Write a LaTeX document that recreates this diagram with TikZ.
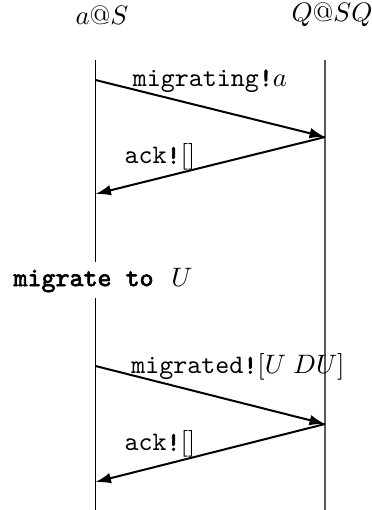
\documentclass[tikz,border=0pt]{standalone}
\usepackage{fontspec}
\setmonofont{lmmono10-regular.otf}[BoldFont=lmmono10-regular.otf, BoldFeatures={FakeBold=2.5}]
\usepackage{amsmath}
\usetikzlibrary{arrows.meta}
\begin{document}
\begin{tikzpicture}[x=3.75pt,y=3.75pt]
      \tikzstyle{every node}+=[inner sep=0pt]
      \tikzstyle{life}=[black, line width=0.4pt]
      \tikzstyle{msg}=[black, line width=0.75pt, -{Latex[length=5.8pt,width=4pt]}]
      \useasboundingbox (0,0) rectangle (37.2,-51);
      % headers
      \node (hs) at (10.2,-1.5) {$a@S$};
      \node (hq) at (33.2,-1.5) {$Q@SQ$};
      % lifelines
      \coordinate (s0) at (9.55,-6);
      \coordinate (s9) at (9.55,-51);
      \coordinate (q0) at (32.5,-6);
      \coordinate (q9) at (32.5,-51);
      \node [fill=white, inner xsep=1pt, inner ysep=2pt] (mig) at (10.3,-28)
            {\texttt{\textbf{migrate to}}\ \ $U$};
      \draw [life] (s0) -- (mig.north -| s0);
      \draw [life] (mig.south -| s0) -- (s9);
      \draw [life, black!65] (q0) -- (q9);
      % messages
      \coordinate (a1) at (9.55,-8.0);
      \coordinate (b1) at (32.5,-13.7);
      \coordinate (a2) at (9.55,-19.4);
      \coordinate (a3) at (9.55,-36.6);
      \coordinate (b3) at (32.5,-42.4);
      \coordinate (a4) at (9.55,-48.2);
      \draw [msg] (a1) -- (b1);
      \draw (21.0,-8.1) node (l1) {\texttt{migrating\textbf{!}}$a$};
      \draw [msg] (b1) -- (a2);
      \draw (16.0,-15.7) node (l2) {\texttt{ack\textbf{!}}$[]$};
      \draw [msg] (a3) -- (b3);
      \draw (23.8,-36.7) node (l3) {\texttt{migrated\textbf{!}}$[U\;DU]$};
      \draw [msg] (b3) -- (a4);
      \draw (16.0,-44.4) node (l4) {\texttt{ack\textbf{!}}$[]$};
    \end{tikzpicture}
\end{document}
